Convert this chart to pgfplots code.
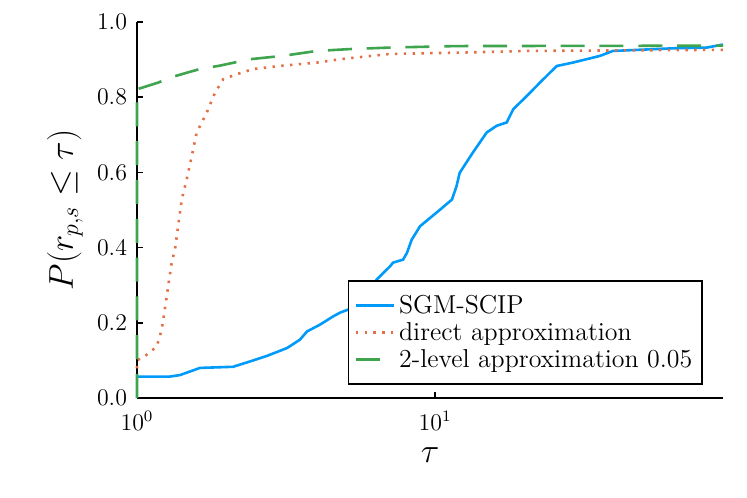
\documentclass[border=0pt]{standalone}
\usepackage{pgfplots}
\pgfplotsset{compat=1.18}
\definecolor{jblue}{RGB}{0,154,250}
\definecolor{jorange}{RGB}{227,111,71}
\definecolor{jgreen}{RGB}{62,164,78}
\begin{document}
\begin{tikzpicture}
\begin{axis}[
  name=ax,
  scale only axis,
  width=293bp, height=188bp,
  xmode=log,
  xmin=1, xmax=92.5,
  ymin=0, ymax=1,
  axis x line*=bottom,
  axis y line*=left,
  axis line style={-, line width=0.9bp},
  xtick={1,10},
  xminorticks=false,
  ytick={0,0.2,0.4,0.6,0.8,1.0},
  yticklabel style={/pgf/number format/fixed,/pgf/number format/fixed zerofill,/pgf/number format/precision=1, xshift=-1.5bp},
  xticklabel style={inner sep=0.5bp, yshift=-6bp},
  tick align=inside,
  major tick length=3bp,
  tick style={line width=0.8bp, black},
  font=\fontsize{12}{14}\selectfont,
  ticklabel style={font=\fontsize{12}{14}\selectfont},
  xlabel={$\tau$},
  ylabel={$P(r_{p,s} \leq \tau)$},
  label style={font=\fontsize{17}{20}\selectfont},
  xlabel style={at={(axis description cs:0.5,-0.152)}, anchor=center, inner sep=0.5bp},
  ylabel style={at={(axis description cs:-0.123,0.5)}, anchor=center},
  clip=false,
  legend style={at={(0.966,0.035)}, anchor=south east, draw=black, line width=0.8bp, font=\fontsize{13}{15}\selectfont, legend cell align=left, row sep=-1pt, inner xsep=3pt, inner ysep=5pt},
  legend image code/.code={\draw[#1] (0bp,0bp) -- (19bp,0bp);},
  legend cell align=left,
]
\addplot[color=jblue, line width=1.3bp] coordinates {
(1,0.057) (1.29,0.057) (1.394,0.061) (1.627,0.08) (2.10,0.083) (2.39,0.097) (2.73,0.112) (3.19,0.133) (3.52,0.155) (3.72,0.177) (4.11,0.195) (4.55,0.217) (4.80,0.227) (5.31,0.24) (5.91,0.27) (6.37,0.315) (6.54,0.324) (7.06,0.35) (7.23,0.36) (7.81,0.368) (8.05,0.386) (8.35,0.421) (8.91,0.457) (10.4,0.501) (11.4,0.528) (11.8,0.563) (12.1,0.599) (13.4,0.653) (14.9,0.706) (16.1,0.724) (17.4,0.733) (18.3,0.768) (20.3,0.803) (22.5,0.839) (25.6,0.883) (29.0,0.892) (35.8,0.91) (39.5,0.923) (62.9,0.93) (81.6,0.932) (92.5,0.94)
};
\addlegendentry{SGM-SCIP}
\addplot[color=jorange, line width=1.3bp, dash pattern=on 1.2bp off 3.2bp] coordinates {
(1,0.079) (1,0.1) (1.078,0.115) (1.164,0.137) (1.21,0.181) (1.258,0.27) (1.307,0.36) (1.341,0.395) (1.413,0.528) (1.468,0.581) (1.526,0.643) (1.586,0.706) (1.714,0.759) (1.827,0.812) (1.948,0.848) (2.16,0.861) (2.455,0.875) (3.097,0.884) (4.01,0.892) (4.8,0.901) (7.06,0.915) (12.77,0.919) (20.3,0.923) (92.5,0.926)
};
\addlegendentry{direct approximation}
\addplot[color=jgreen, line width=1.3bp, dash pattern=on 12bp off 7.4bp] coordinates {
(1,0) (1,0.821) (1.179,0.839) (1.29,0.852) (1.468,0.865) (1.627,0.875) (1.899,0.884) (2.39,0.901) (3.09,0.91) (4.01,0.923) (5.19,0.928) (7.06,0.932) (11.8,0.936) (92.5,0.937)
};
\addlegendentry{2-level approximation 0.05}
\end{axis}
\pgfresetboundingbox
\path[use as bounding box] ([xshift=-68.5bp,yshift=-50bp]ax.south west) rectangle ([xshift=12bp,yshift=11bp]ax.north east);
\end{tikzpicture}
\end{document}
